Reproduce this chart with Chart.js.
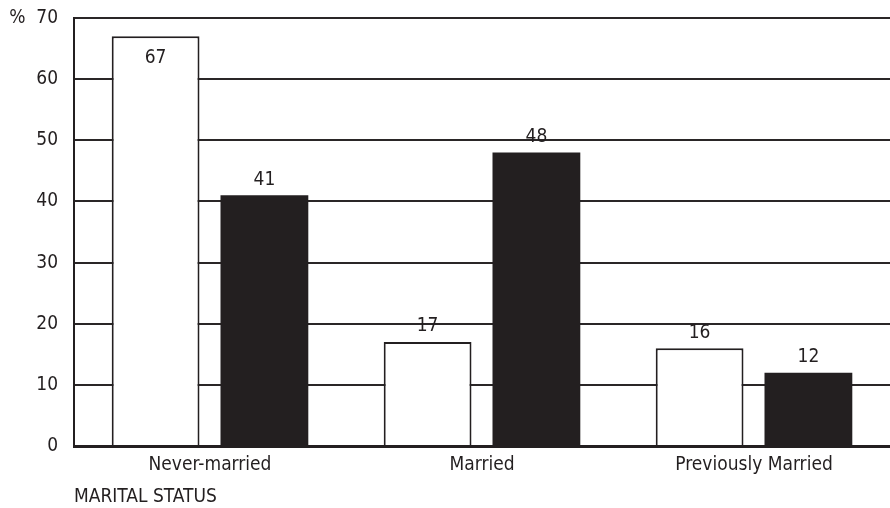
<!DOCTYPE html>
<html>
<head>
<meta charset="utf-8">
<script src="https://cdn.jsdelivr.net/npm/chart.js@4/dist/chart.umd.min.js"></script>
<style>
  html, body { margin: 0; padding: 0; background: #fff; }
  #wrap { width: 890px; height: 508px; }
</style>
</head>
<body>
<div id="wrap"><canvas id="c"></canvas></div>
<script>
// --- Data ---
const categories = ["Never-married", "Married", "Previously Married"];
const seriesWhite = [67, 17, 16];
const seriesDark = [41, 48, 12];
const yTicks = [0, 10, 20, 30, 40, 50, 60, 70];

const FONT = "'DejaVu Sans Condensed', 'Roboto', sans-serif";
const INK = "#231f20";

// value labels above each bar (inside when near the top)
const valueLabels = {
  id: "valueLabels",
  afterDatasetsDraw(chart) {
    const ctx = chart.ctx;
    ctx.save();
    ctx.font = "500 19px " + FONT;
    ctx.fillStyle = INK;
    ctx.textAlign = "center";
    chart.data.datasets.forEach((ds, i) => {
      chart.getDatasetMeta(i).data.forEach((bar, j) => {
        const v = ds.data[j];
        if (v > 60) {
          ctx.textBaseline = "top";
          ctx.fillText(v, bar.x, bar.y + 12);
        } else {
          ctx.textBaseline = "bottom";
          ctx.fillText(v, bar.x, bar.y - 6);
        }
      });
    });
    ctx.restore();
  }
};

new Chart(document.getElementById("c"), {
  type: "bar",
  data: {
    labels: categories,
    datasets: [
      {
        data: seriesWhite,
        backgroundColor: "#ffffff",
        borderColor: INK,
        borderWidth: 2,
        borderSkipped: "start"
      },
      {
        data: seriesDark,
        backgroundColor: INK,
        borderWidth: 0
      }
    ]
  },
  options: {
    responsive: true,
    maintainAspectRatio: false,
    animation: false,
    categoryPercentage: 0.8,
    barPercentage: 0.807,
    layout: { padding: { top: 18, right: 0, left: 0, bottom: 0 } },
    plugins: { legend: { display: false }, tooltip: { enabled: false } },
    scales: {
      x: {
        grid: { display: false, drawTicks: false },
        border: { display: true, color: INK, width: 3 },
        ticks: { color: INK, font: { family: FONT, size: 19, weight: 500 }, padding: 8 },
        title: {
          display: true,
          text: "MARITAL STATUS",
          align: "start",
          color: INK,
          font: { family: FONT, size: 19, weight: 500 },
          padding: { top: 6, bottom: 0 }
        },
        afterFit(scale) { scale.height = 62; }
      },
      y: {
        min: 0,
        max: 70,
        afterBuildTicks(scale) { scale.ticks = yTicks.map(v => ({ value: v })); },
        grid: { color: "#2a2627", lineWidth: 2, drawTicks: false },
        border: { display: true, color: INK, width: 2 },
        ticks: {
          color: INK,
          font: { family: FONT, size: 19, weight: 500 },
          padding: 16,
          callback: v => (v === 70 ? "%  70" : v)
        },
        afterFit(scale) {
          scale.width = 74;
          scale.paddingTop = 0;
          scale.paddingBottom = 0;
        }
      }
    }
  },
  plugins: [valueLabels]
});
</script>
</body>
</html>
